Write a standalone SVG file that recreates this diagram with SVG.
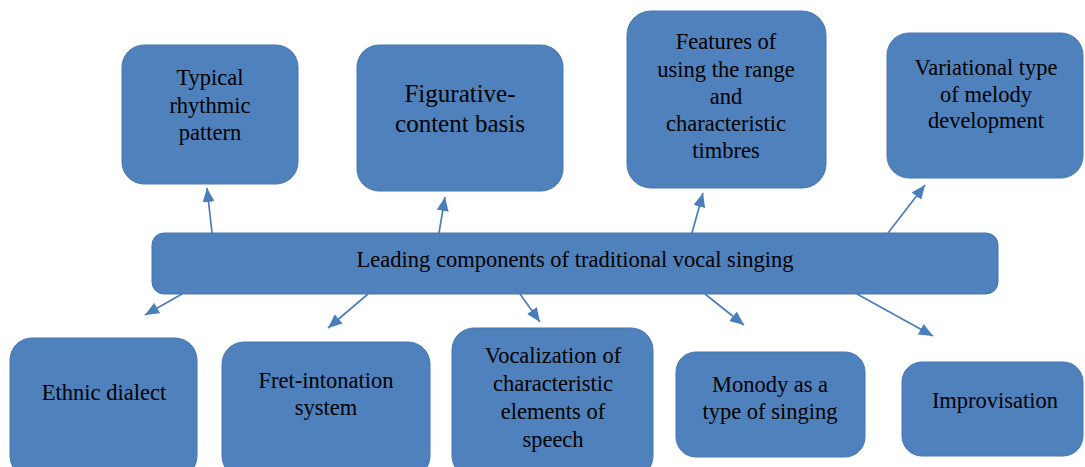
<svg xmlns="http://www.w3.org/2000/svg" width="1085" height="467" viewBox="0 0 1085 467">
<defs>
<marker id="ah" viewBox="0 0 14 12" markerUnits="userSpaceOnUse" markerWidth="14" markerHeight="12" refX="14" refY="6" orient="auto">
<path d="M0,0 L14,6 L0,12 z" fill="#4a7ebb"/>
</marker>
<style>
.box{fill:#4f81bd;stroke:#4677b0;stroke-width:1}
.t{font-family:"Liberation Serif","Times New Roman",serif;font-size:22.5px;fill:#000;text-anchor:middle}
.big{font-size:25px}
.c{stroke:#4a7ebb;stroke-width:1.7;fill:none;marker-end:url(#ah)}
</style>
</defs>
<rect width="1085" height="467" fill="#fff"/>
<g id="connectors">
<line class="c" x1="212" y1="233" x2="207" y2="188"/>
<line class="c" x1="439" y1="233" x2="445" y2="197"/>
<line class="c" x1="692" y1="233" x2="703" y2="193"/>
<line class="c" x1="888" y1="233" x2="925" y2="185"/>
<line class="c" x1="182" y1="294" x2="145" y2="315"/>
<line class="c" x1="368" y1="294" x2="328" y2="328"/>
<line class="c" x1="520" y1="294" x2="540" y2="322"/>
<line class="c" x1="705" y1="294" x2="744" y2="325"/>
<line class="c" x1="857" y1="294" x2="933" y2="336"/>
</g>
<g id="center">
<rect class="box" x="152" y="233" width="846" height="61" rx="12"/>
<text class="t" x="575" y="267">Leading components of traditional vocal singing</text>
</g>
<g id="typical">
<rect class="box" x="122" y="45" width="176" height="139" rx="22"/>
<text class="t" x="210" y="85">Typical</text>
<text class="t" x="210" y="113">rhythmic</text>
<text class="t" x="210" y="140">pattern</text>
</g>
<g id="figurative">
<rect class="box" x="357" y="45" width="206" height="146" rx="22"/>
<text class="t big" x="460" y="102">Figurative-</text>
<text class="t big" x="460" y="132">content basis</text>
</g>
<g id="features">
<rect class="box" x="627" y="11" width="199" height="177" rx="24"/>
<text class="t" x="726" y="49">Features of</text>
<text class="t" x="726" y="77">using the range</text>
<text class="t" x="726" y="104">and</text>
<text class="t" x="726" y="131">characteristic</text>
<text class="t" x="726" y="158">timbres</text>
</g>
<g id="variational">
<rect class="box" x="887" y="33" width="196" height="145" rx="22"/>
<text class="t" x="986" y="75">Variational type</text>
<text class="t" x="986" y="102">of melody</text>
<text class="t" x="986" y="128">development</text>
</g>
<g id="ethnic">
<rect class="box" x="10" y="338" width="187" height="140" rx="22"/>
<text class="t" x="104" y="400">Ethnic dialect</text>
</g>
<g id="fret">
<rect class="box" x="222" y="342" width="208" height="136" rx="22"/>
<text class="t" x="326" y="388">Fret-intonation</text>
<text class="t" x="326" y="415">system</text>
</g>
<g id="vocalization">
<rect class="box" x="452" y="328" width="201" height="150" rx="22"/>
<text class="t" x="553" y="363">Vocalization of</text>
<text class="t" x="553" y="391">characteristic</text>
<text class="t" x="553" y="419">elements of</text>
<text class="t" x="553" y="447">speech</text>
</g>
<g id="monody">
<rect class="box" x="676" y="352" width="189" height="105" rx="20"/>
<text class="t" x="770" y="392">Monody as a</text>
<text class="t" x="770" y="419">type of singing</text>
</g>
<g id="improvisation">
<rect class="box" x="902" y="362" width="181" height="94" rx="20"/>
<text class="t" x="995" y="408">Improvisation</text>
</g>
</svg>
